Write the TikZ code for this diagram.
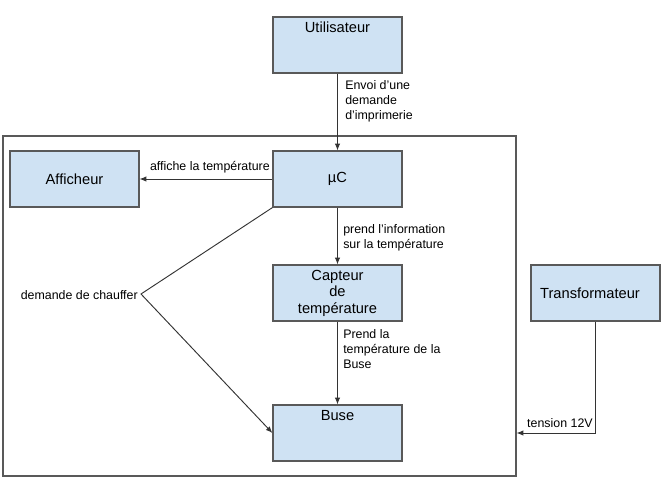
\documentclass[tikz,border=0pt]{standalone}
\usepackage{fontspec}
\setmainfont{Liberation Sans}
\usetikzlibrary{arrows.meta,positioning}
\definecolor{boxfill}{HTML}{CFE2F3}
\definecolor{boxline}{HTML}{595959}
\definecolor{lnk}{HTML}{333333}
\begin{document}
\begin{tikzpicture}[x=0.75pt,y=-0.75pt,
  blk/.style={draw=boxline,line width=0.9pt,fill=boxfill,minimum width=96.75pt,minimum height=42pt,inner sep=0pt,font=\fontsize{11}{12.4}\selectfont,align=center},
  toplbl/.style={label={[anchor=north,inner sep=0pt,yshift=-4pt,font=\fontsize{11}{12.4}\selectfont]north:#1}},
  elbl/.style={font=\fontsize{9.3}{11.25}\selectfont,align=left,inner sep=0pt},
  link/.style={draw=lnk,line width=0.7pt,-{Latex[length=5pt,width=4pt]}}]
\useasboundingbox (0,0) rectangle (669,486);
\node[draw=boxline,line width=0.9pt,minimum width=384.75pt,minimum height=255pt,inner sep=0pt] (frame) at (259.5,306) {};
\node[blk,toplbl={Utilisateur}] (U) at (337.5,45) {};
\node[blk] (A) at (74.5,179) {Afficheur};
\node[blk] (M) at (337.5,179) {µC};
\node[blk] (C) at (337.5,293) {Capteur\\de\\température};
\node[blk,toplbl={Buse}] (B) at (337.5,433) {};
\node[blk,text width=83pt,align=left,inner xsep=6.75pt] (T) at (595.5,293) {Transformateur};
\coordinate (K) at (141,294);
\draw[link] (U.south) -- (M.north);
\draw[link] (M.west) -- (A.east);
\draw[link] (M.south) -- (C.north);
\draw[link] (C.south) -- (B.north);
\draw[link] (M.south west) -- (K) -- (B.west);
\draw[link] (T.south) |- (B.east -| frame.east);
\node[elbl,anchor=north west] (l1) at (345,80) {Envoi d’une\\demande\\d’imprimerie};
\node[elbl,anchor=south east] (l2) at (270,173) {affiche la température};
\node[elbl,anchor=north west] (l3) at (343,224) {prend l’information\\sur la température};
\node[elbl,anchor=north west] (l4) at (343,329) {Prend la\\température de la\\Buse};
\node[elbl,anchor=east] (l5) at (138,295) {demande de chauffer};
\node[elbl,anchor=south east] (l6) at (593,428) {tension 12V};
\end{tikzpicture}
\end{document}
